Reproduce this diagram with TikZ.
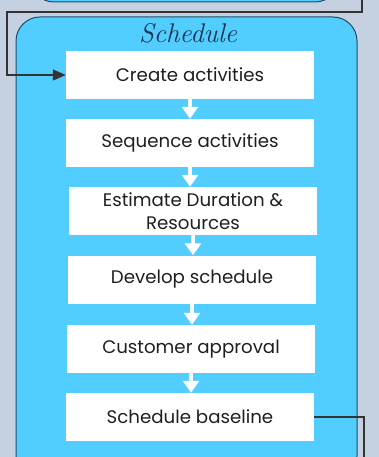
\documentclass[tikz,border=0pt]{standalone}
\usepackage{fontspec}
\setmainfont{Poppins}
\newfontfamily\titlefont{Latin Modern Roman}
\usetikzlibrary{arrows.meta}
\definecolor{bgc}{RGB}{197,209,224}
\definecolor{boxblue}{RGB}{82,205,255}
\definecolor{edgec}{RGB}{30,75,105}
\definecolor{linec}{RGB}{51,51,51}
\definecolor{titlec}{RGB}{25,50,80}
\tikzset{
  stepbox/.style={draw=none, fill=white, minimum width=248pt, minimum height=48pt, inner sep=0pt, align=center, font=\fontsize{18.2}{21}\selectfont, text=black!88},
  container/.style={draw=edgec, line width=1pt, fill=boxblue, rounded corners=24pt},
  flowarrow/.style={draw=white, line width=4pt, -{Triangle[width=16pt,length=12pt]}, shorten >=0pt},
  conn/.style={draw=linec, line width=1.4pt},
}
\begin{document}
\begin{tikzpicture}[x=1pt,y=-1pt]
\useasboundingbox[fill=bgc] (0,0) rectangle (379,457);
\begin{scope}
\clip (0,0) rectangle (379,457);
\path[container] (30,-40) rectangle (339,2);
\path[container] (16,17) rectangle (357,480);
\end{scope}
\node[font=\titlefont\itshape\fontsize{27}{29}\selectfont, text=titlec] (title) at (188,33) {Schedule};
\node[stepbox] (c1) at (190,75) {Create activities};
\node[stepbox] (c2) at (190,143) {Sequence activities};
\node[stepbox, font=\fontsize{18.2}{22.5}\selectfont] (c3) at (193,211) {Estimate Duration \&\\Resources};
\node[stepbox] (c4) at (192,279.5) {Develop schedule};
\node[stepbox] (c5) at (191,349) {Customer approval};
\node[stepbox] (c6) at (190,417) {Schedule baseline};
\foreach \a/\b in {c1/c2,c2/c3,c3/c4,c4/c5,c5/c6}
  \draw[flowarrow] (\a.south) -- (\a.south |- \b.north);
\coordinate (topin) at (362,0);
\coordinate (botout) at (364,457);
\draw[conn, -{Triangle[width=11pt,length=13pt]}] (topin) -- (362,12) -- (7,12) -- (7,75) -- (c1.west);
\draw[conn] (c6.east) -| (botout);
\end{tikzpicture}
\end{document}
